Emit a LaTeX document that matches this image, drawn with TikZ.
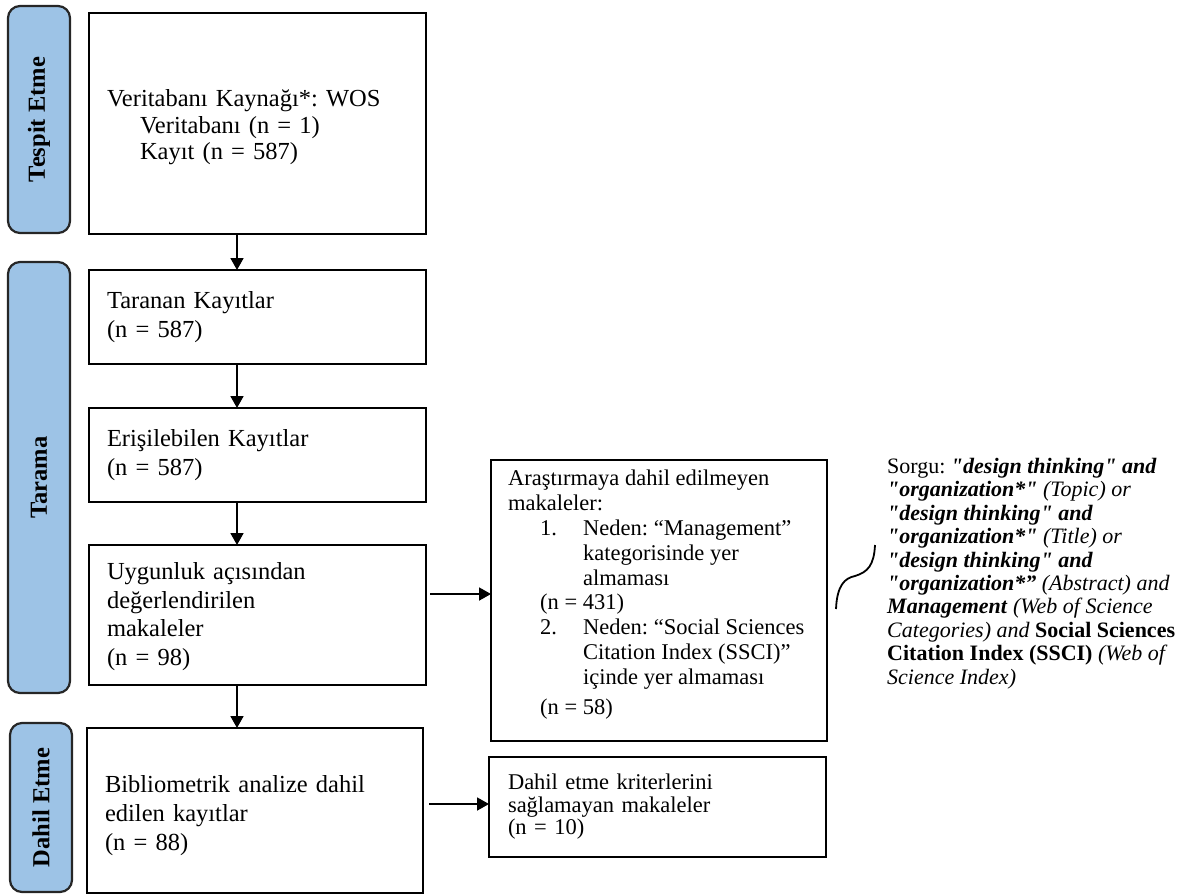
\documentclass[tikz,border=0pt]{standalone}
\usepackage{fontspec}
\setmainfont{Liberation Serif}[Ligatures=TeXOff]
\usetikzlibrary{arrows.meta}
\definecolor{lblue}{HTML}{9DC3E6}
\definecolor{edgegray}{HTML}{262626}
\frenchspacing
\begin{document}
\begin{tikzpicture}[x=1pt,y=-1pt,
  box/.style={draw=black, line width=2.2pt, anchor=north west, inner xsep=18pt, inner ysep=0pt, outer sep=0pt, align=left, font=\fontsize{24.5}{29}\selectfont},
  sbox/.style={draw=black, line width=2.2pt, anchor=north west, inner sep=0pt, outer sep=0pt},
  phase/.style={draw=edgegray, fill=lblue, line width=2.2pt, rounded corners=12pt, anchor=north west, inner sep=0pt, outer sep=0pt},
  ptext/.style={rotate=90, font=\bfseries\fontsize{24.5}{29}\selectfont},
  smalltext/.style={anchor=north west, inner sep=0pt, align=left, font=\fontsize{22.5}{24.8}\selectfont},
  arr/.style={line width=1.8pt, -{Triangle[length=12pt,width=13pt]}},
]
\useasboundingbox (0,0) rectangle (1191,895);

% phase labels
\node[phase, minimum width=62pt, minimum height=227pt] (p1) at (8,6) {};
\node[ptext] (p1t) at (p1.center) {Tespit Etme};
\node[phase, minimum width=62pt, minimum height=431pt] (p2) at (8,262) {};
\node[ptext] (p2t) at (p2.center) {Tarama};
\node[phase, minimum width=62pt, minimum height=169pt] (p3) at (10,723) {};
\node[ptext] (p3t) at (p3.center) {Dahil Etme};

% main boxes
\node[box, text width=301pt, minimum height=221pt, font=\fontsize{24.5}{26.5}\selectfont] (b1) at (89,13)
  {\rule{0pt}{25pt}Veritabanı Kaynağı*: WOS\\ \hspace*{33pt}Veritabanı (n = 1)\\ \hspace*{33pt}Kayıt (n = 587)};
\node[box, text width=301pt, minimum height=94pt] (b2) at (89,270)
  {Taranan Kayıtlar\\ (n = 587)};
\node[box, text width=301pt, minimum height=94pt] (b3) at (89,408)
  {Erişilebilen Kayıtlar\\ (n = 587)};
\node[box, text width=301pt, minimum height=140pt, font=\fontsize{24.5}{28.5}\selectfont] (b4) at (89,545)
  {\rule{0pt}{20pt}Uygunluk açısından\\ değerlendirilen\\ makaleler\\ (n = 98)};
\node[box, text width=300pt, minimum height=165pt] (b5) at (87,728)
  {\rule{0pt}{27pt}Bibliometrik analize dahil\\ edilen kayıtlar\\ (n = 88)};

% exclusion boxes
\node[sbox, minimum width=336pt, minimum height=281pt] (e1) at (491,460) {};
\node[smalltext] (e1t) at (508,470)
  {Araştırmaya dahil edilmeyen\\
   makaleler:\\
   \hspace*{32pt}\makebox[43pt][l]{1.}Neden: “Management”\\
   \hspace*{75pt}kategorisinde yer\\
   \hspace*{75pt}almaması\\
   \hspace*{32pt}(n = 431)\\
   \hspace*{32pt}\makebox[43pt][l]{2.}Neden: “Social Sciences\\
   \hspace*{75pt}Citation Index (SSCI)”\\
   \hspace*{75pt}içinde yer almaması\\[5pt]
   \hspace*{32pt}(n = 58)};
\node[box, text width=299pt, inner xsep=19pt, minimum height=100pt, font=\fontsize{22.5}{22.5}\selectfont] (e2) at (489,757)
  {Dahil etme kriterlerini\\ sağlamayan makaleler\\ (n = 10)};

% query text
\node[anchor=north west, inner sep=0pt, align=left, font=\fontsize{22}{23.4}\selectfont] (q) at (887,458)
  {Sorgu: \textbf{\textit{"design thinking" and}}\\
   \textbf{\textit{"organization*"}} \textit{(Topic) or}\\
   \textbf{\textit{"design thinking" and}}\\
   \textbf{\textit{"organization*"}} \textit{(Title) or}\\
   \textbf{\textit{"design thinking" and}}\\
   \textbf{\textit{"organization*”}} \textit{(Abstract) and}\\
   \textbf{\textit{Management}} \textit{(Web of Science}\\
   \textit{Categories) and} \textbf{Social Sciences}\\
   \textbf{Citation Index (SSCI)} \textit{(Web of}\\
   \textit{Science Index)}};

% curve
\coordinate (cA) at (836,609);
\coordinate (cM) at (855,576);
\coordinate (cB) at (875,545);
\draw[line width=1.8pt] (cA) .. controls (837,585) and (845,578) .. (cM) .. controls (868,572) and (874,565) .. (cB);

% connectors
\coordinate (ax) at (237,0);
\draw[arr] (b1.south -| ax) -- (b2.north -| ax);
\draw[arr] (b2.south -| ax) -- (b3.north -| ax);
\draw[arr] (b3.south -| ax) -- (b4.north -| ax);
\draw[arr] (b4.south -| ax) -- (b5.north -| ax);

\coordinate (h1) at (0,594);
\coordinate (h2) at (0,804);
\coordinate (b4r) at ([xshift=4pt]b4.east);
\coordinate (b5r) at ([xshift=6pt]b5.east);
\draw[arr] (b4r |- h1) -- (e1.west |- h1);
\draw[arr] (b5r |- h2) -- (e2.west |- h2);
\end{tikzpicture}
\end{document}
